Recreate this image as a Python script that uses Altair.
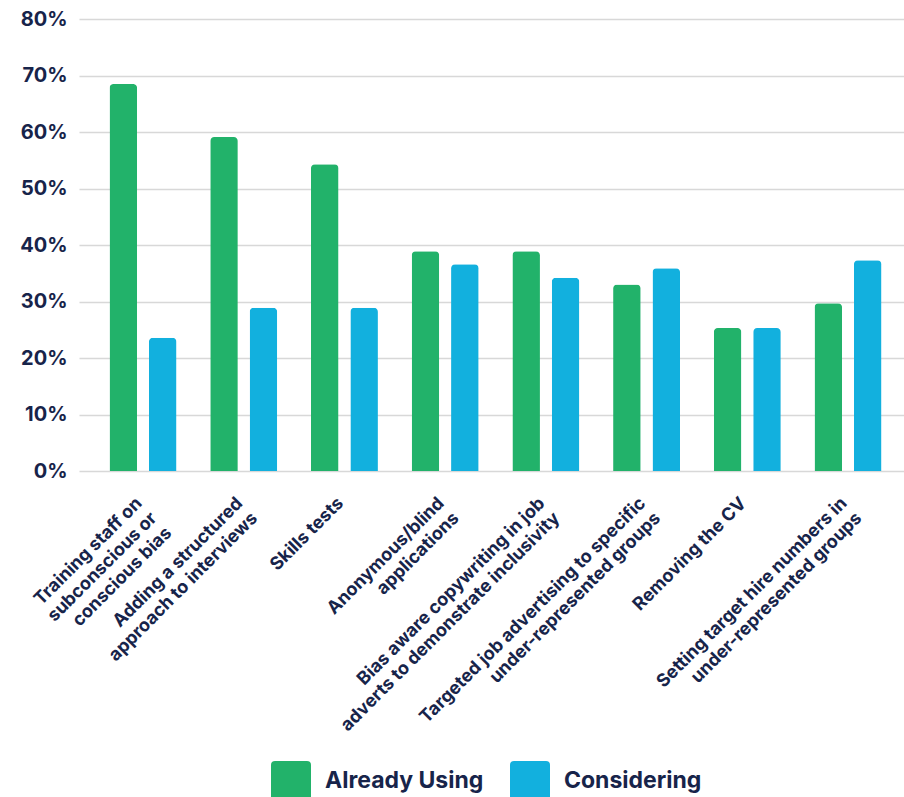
import altair as alt
import pandas as pd

categories = [
    "Training staff on|subconscious or|conscious bias",
    "Adding a structured|approach to interviews",
    "Skills tests",
    "Anonymous/blind|applications",
    "Bias aware copywriting in job|adverts to demonstrate inclusivity",
    "Targeted job advertising to specific|under-represented groups",
    "Removing the CV",
    "Setting target hire numbers in|under-represented groups",
]
already_using = [0.685, 0.591, 0.543, 0.389, 0.389, 0.330, 0.253, 0.297]
considering = [0.236, 0.289, 0.289, 0.366, 0.342, 0.359, 0.253, 0.373]
series = ["Already Using", "Considering"]
colors = ["#22B26A", "#12B0DE"]

rows = []
for c, a, b in zip(categories, already_using, considering):
    rows.append({"cat": c, "series": series[0], "value": a})
    rows.append({"cat": c, "series": series[1], "value": b})
df = pd.DataFrame(rows)

NAVY = "#17244a"
FONT = "Inter"
rounded = ("M -0.8 -1 H 0.8 Q 1 -1 1 -0.8 V 0.8 Q 1 1 0.8 1 H -0.8 "
           "Q -1 1 -1 0.8 V -0.8 Q -1 -1 -0.8 -1 Z")

chart = alt.Chart(df).mark_bar(
    cornerRadiusTopLeft=4, cornerRadiusTopRight=4
).encode(
    x=alt.X("cat:N", sort=categories, title=None,
            scale=alt.Scale(range=[0, 833], paddingInner=0.335, paddingOuter=0.303),
            axis=alt.Axis(labelAngle=-45, labelAlign="right", labelBaseline="top",
                          labelExpr="split(datum.label, '|')", labelLineHeight=21,
                          labelFont=FONT, labelFontWeight="bold", labelFontSize=18,
                          labelColor=NAVY, labelPadding=23, labelOffset=-10,
                          labelLimit=400,
                          ticks=False, domain=False, grid=False, labelOverlap=False)),
    xOffset=alt.XOffset("series:N", sort=series,
                        scale=alt.Scale(paddingInner=0.3, paddingOuter=0)),
    y=alt.Y("value:Q", title=None,
            scale=alt.Scale(domain=[0, 0.8]),
            axis=alt.Axis(format=".0%", values=[0, 0.1, 0.2, 0.3, 0.4, 0.5, 0.6, 0.7, 0.8],
                          labelFont=FONT, labelFontWeight="bold", labelFontSize=20,
                          labelColor=NAVY, labelPadding=12, ticks=False, domain=False,
                          gridColor="#d8d8d8", gridWidth=1.5)),
    color=alt.Color("series:N", sort=series,
                    scale=alt.Scale(domain=series, range=colors),
                    legend=alt.Legend(orient="none", legendX=192, legendY=742,
                                      direction="horizontal", title=None,
                                      symbolType=rounded, symbolSize=1600,
                                      symbolStrokeWidth=0, labelFont=FONT,
                                      labelFontWeight="bold", labelFontSize=23,
                                      labelColor=NAVY, labelLimit=300,
                                      labelOffset=14, columnPadding=26, padding=0)),
).properties(
    width=825, height=452,
    autosize=alt.AutoSizeParams(type="none"),
    padding={"left": 79, "top": 19, "right": 0, "bottom": 326},
).configure_view(stroke=None)

chart.save("out.html", embed_options={"renderer": "svg", "actions": False})
